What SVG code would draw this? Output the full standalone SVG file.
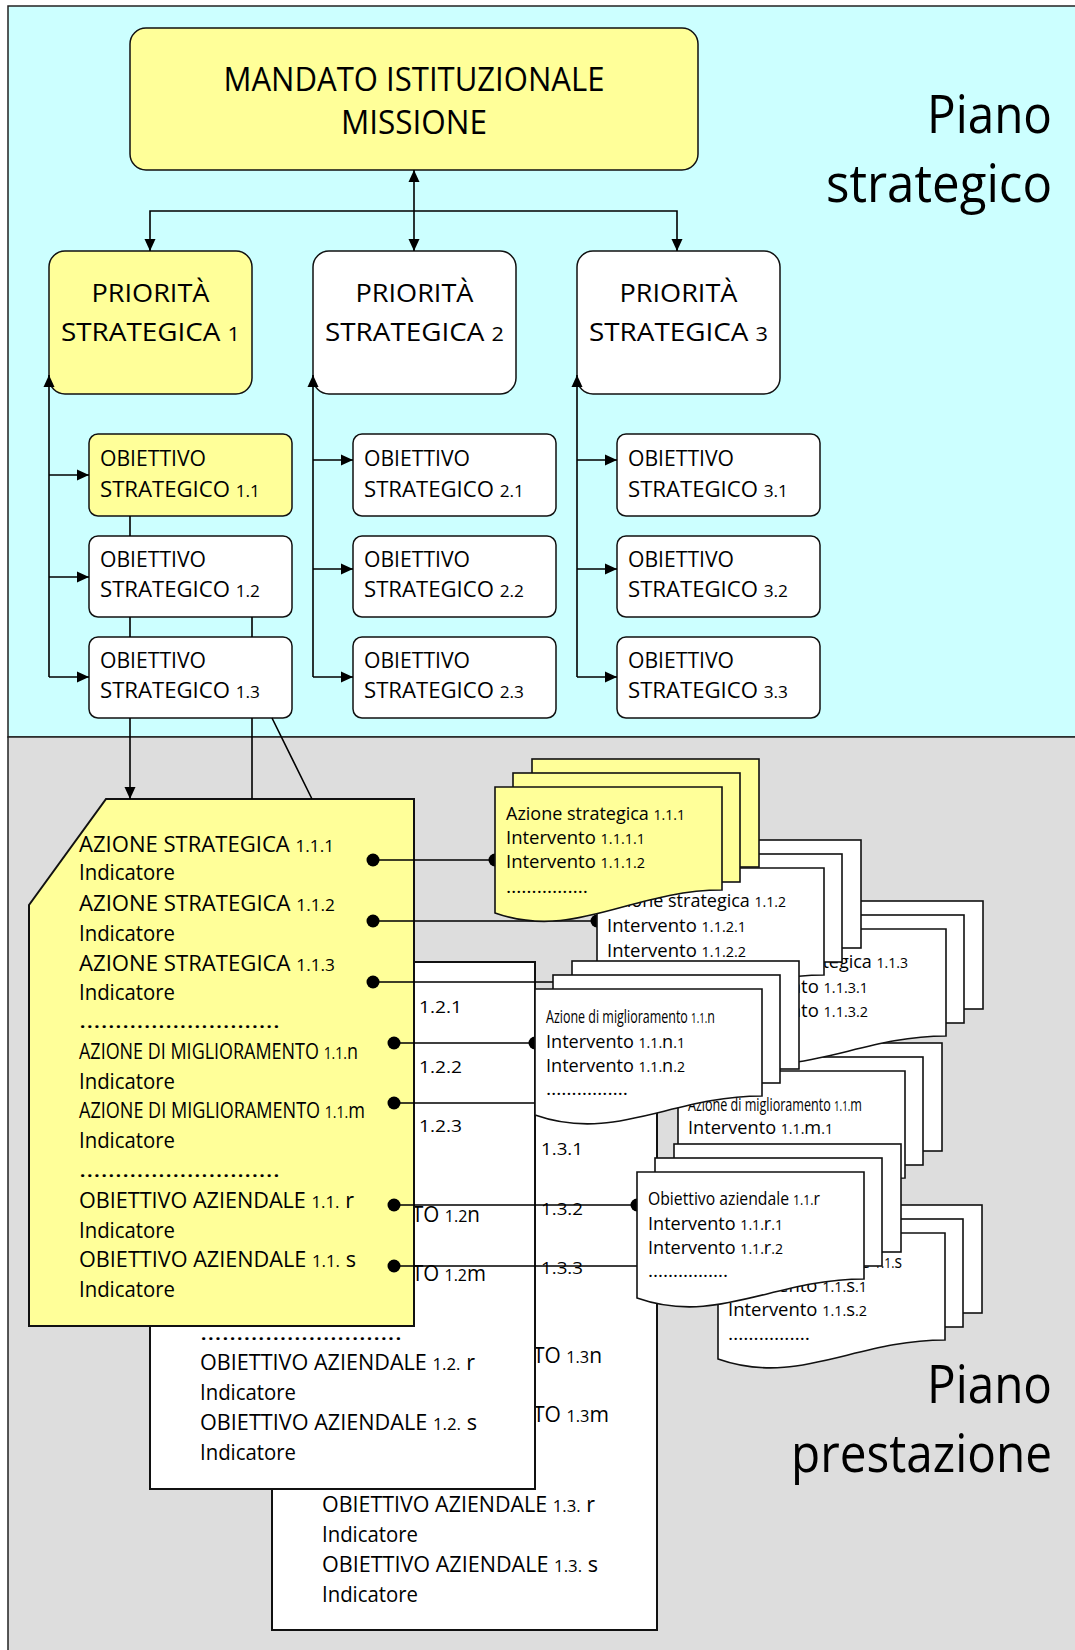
<svg xmlns="http://www.w3.org/2000/svg" width="1075" height="1650" viewBox="0 0 1075 1650">
<defs>
<marker id="ah" markerUnits="userSpaceOnUse" markerWidth="12" markerHeight="12" viewBox="0 0 12 12" refX="12" refY="6" orient="auto-start-reverse"><path d="M0,0.5 L12,6 L0,11.5 z" fill="#000"/></marker>
</defs>
<style>
text{font-family:"Open Sans","Liberation Sans",sans-serif;fill:#000}
.bx{stroke:#111;stroke-width:1.5}
.doc{stroke:#111;stroke-width:2}
.pg{stroke:#111;stroke-width:1.6}
.y{fill:#FFFF99}
.w{fill:#FFFFFF}
.ln{stroke:#000;stroke-width:1.6;fill:none}
.dot{fill:#000}
.f53{font-size:53px}
.f33{font-size:33px}
.f26{font-size:26px}
.f22{font-size:22px}
.f21{font-size:21px}
.f17{font-size:17.5px}
.n{font-size:78%}
</style>

<g id="background">
<rect x="8" y="6" width="1080" height="731" fill="#CCFFFF" stroke="#222" stroke-width="1.5"/>
<rect x="8" y="737" width="1080" height="920" fill="#DDDDDD" stroke="#222" stroke-width="1.5"/>
</g>

<g id="label-strategico">
<text class="f53" x="1052" y="133" text-anchor="end" textLength="125" lengthAdjust="spacingAndGlyphs">Piano</text>
<text class="f53" x="1052" y="202" text-anchor="end" textLength="226" lengthAdjust="spacingAndGlyphs">strategico</text>
</g>
<g id="label-prestazione">
<text class="f53" x="1052" y="1403" text-anchor="end" textLength="125" lengthAdjust="spacingAndGlyphs">Piano</text>
<text class="f53" x="1052" y="1472" text-anchor="end" textLength="261" lengthAdjust="spacingAndGlyphs">prestazione</text>
</g>

<g id="mandato">
<rect class="bx y" x="130" y="28" width="568" height="142" rx="16"/>
<text class="f33" x="414" y="91" text-anchor="middle" textLength="381" lengthAdjust="spacingAndGlyphs">MANDATO ISTITUZIONALE</text>
<text class="f33" x="414" y="134" text-anchor="middle" textLength="146" lengthAdjust="spacingAndGlyphs">MISSIONE</text>
</g>

<g id="priorita-1">
<rect class="bx y" x="49" y="251" width="203" height="143" rx="16"/>
<text class="f26" x="150.5" y="302" text-anchor="middle" textLength="118" lengthAdjust="spacingAndGlyphs">PRIORITÀ</text>
<text class="f26" x="150.5" y="341" text-anchor="middle" textLength="179" lengthAdjust="spacingAndGlyphs">STRATEGICA <tspan class="n">1</tspan></text>
</g>
<g id="priorita-2">
<rect class="bx w" x="313" y="251" width="203" height="143" rx="16"/>
<text class="f26" x="414.5" y="302" text-anchor="middle" textLength="118" lengthAdjust="spacingAndGlyphs">PRIORITÀ</text>
<text class="f26" x="414.5" y="341" text-anchor="middle" textLength="179" lengthAdjust="spacingAndGlyphs">STRATEGICA <tspan class="n">2</tspan></text>
</g>
<g id="priorita-3">
<rect class="bx w" x="577" y="251" width="203" height="143" rx="16"/>
<text class="f26" x="678.5" y="302" text-anchor="middle" textLength="118" lengthAdjust="spacingAndGlyphs">PRIORITÀ</text>
<text class="f26" x="678.5" y="341" text-anchor="middle" textLength="179" lengthAdjust="spacingAndGlyphs">STRATEGICA <tspan class="n">3</tspan></text>
</g>

<g id="obiettivo-1-1">
<rect class="bx y" x="89" y="434" width="203" height="82" rx="9"/>
<text class="f22" x="100" y="466" textLength="106" lengthAdjust="spacingAndGlyphs">OBIETTIVO</text>
<text class="f22" x="100" y="497" textLength="160" lengthAdjust="spacingAndGlyphs">STRATEGICO <tspan class="n">1.1</tspan></text>
</g>
<g id="obiettivo-1-2">
<rect class="bx w" x="89" y="536" width="203" height="81" rx="9"/>
<text class="f22" x="100" y="567" textLength="106" lengthAdjust="spacingAndGlyphs">OBIETTIVO</text>
<text class="f22" x="100" y="597" textLength="160" lengthAdjust="spacingAndGlyphs">STRATEGICO <tspan class="n">1.2</tspan></text>
</g>
<g id="obiettivo-1-3">
<rect class="bx w" x="89" y="637" width="203" height="81" rx="9"/>
<text class="f22" x="100" y="668" textLength="106" lengthAdjust="spacingAndGlyphs">OBIETTIVO</text>
<text class="f22" x="100" y="698" textLength="160" lengthAdjust="spacingAndGlyphs">STRATEGICO <tspan class="n">1.3</tspan></text>
</g>
<g id="obiettivo-2-1">
<rect class="bx w" x="353" y="434" width="203" height="82" rx="9"/>
<text class="f22" x="364" y="466" textLength="106" lengthAdjust="spacingAndGlyphs">OBIETTIVO</text>
<text class="f22" x="364" y="497" textLength="160" lengthAdjust="spacingAndGlyphs">STRATEGICO <tspan class="n">2.1</tspan></text>
</g>
<g id="obiettivo-2-2">
<rect class="bx w" x="353" y="536" width="203" height="81" rx="9"/>
<text class="f22" x="364" y="567" textLength="106" lengthAdjust="spacingAndGlyphs">OBIETTIVO</text>
<text class="f22" x="364" y="597" textLength="160" lengthAdjust="spacingAndGlyphs">STRATEGICO <tspan class="n">2.2</tspan></text>
</g>
<g id="obiettivo-2-3">
<rect class="bx w" x="353" y="637" width="203" height="81" rx="9"/>
<text class="f22" x="364" y="668" textLength="106" lengthAdjust="spacingAndGlyphs">OBIETTIVO</text>
<text class="f22" x="364" y="698" textLength="160" lengthAdjust="spacingAndGlyphs">STRATEGICO <tspan class="n">2.3</tspan></text>
</g>
<g id="obiettivo-3-1">
<rect class="bx w" x="617" y="434" width="203" height="82" rx="9"/>
<text class="f22" x="628" y="466" textLength="106" lengthAdjust="spacingAndGlyphs">OBIETTIVO</text>
<text class="f22" x="628" y="497" textLength="160" lengthAdjust="spacingAndGlyphs">STRATEGICO <tspan class="n">3.1</tspan></text>
</g>
<g id="obiettivo-3-2">
<rect class="bx w" x="617" y="536" width="203" height="81" rx="9"/>
<text class="f22" x="628" y="567" textLength="106" lengthAdjust="spacingAndGlyphs">OBIETTIVO</text>
<text class="f22" x="628" y="597" textLength="160" lengthAdjust="spacingAndGlyphs">STRATEGICO <tspan class="n">3.2</tspan></text>
</g>
<g id="obiettivo-3-3">
<rect class="bx w" x="617" y="637" width="203" height="81" rx="9"/>
<text class="f22" x="628" y="668" textLength="106" lengthAdjust="spacingAndGlyphs">OBIETTIVO</text>
<text class="f22" x="628" y="698" textLength="160" lengthAdjust="spacingAndGlyphs">STRATEGICO <tspan class="n">3.3</tspan></text>
</g>

<g id="doc-1-3">
<polygon class="doc w" points="349,1103 657,1103 657,1630 272,1630 272,1209"/>
<text class="f21" x="541" y="1155" textLength="42" lengthAdjust="spacingAndGlyphs"><tspan class="n">1.3.1</tspan></text>
<text class="f21" x="541" y="1215" textLength="42" lengthAdjust="spacingAndGlyphs"><tspan class="n">1.3.2</tspan></text>
<text class="f21" x="541" y="1274" textLength="42" lengthAdjust="spacingAndGlyphs"><tspan class="n">1.3.3</tspan></text>
<text class="f21" x="533" y="1363" textLength="69" lengthAdjust="spacingAndGlyphs">TO <tspan class="n">1.3</tspan>n</text>
<text class="f21" x="533" y="1422" textLength="76" lengthAdjust="spacingAndGlyphs">TO <tspan class="n">1.3</tspan>m</text>
<text class="f21" x="322" y="1512" textLength="273" lengthAdjust="spacingAndGlyphs">OBIETTIVO AZIENDALE <tspan class="n">1.3.</tspan> r</text>
<text class="f21" x="322" y="1542" textLength="96" lengthAdjust="spacingAndGlyphs">Indicatore</text>
<text class="f21" x="322" y="1572" textLength="276" lengthAdjust="spacingAndGlyphs">OBIETTIVO AZIENDALE <tspan class="n">1.3.</tspan> s</text>
<text class="f21" x="322" y="1602" textLength="96" lengthAdjust="spacingAndGlyphs">Indicatore</text>
</g>

<g id="doc-1-2">
<polygon class="doc w" points="227,962 535,962 535,1489 150,1489 150,1068"/>
<text class="f21" x="419" y="1013" textLength="43" lengthAdjust="spacingAndGlyphs"><tspan class="n">1.2.1</tspan></text>
<text class="f21" x="419" y="1073" textLength="43" lengthAdjust="spacingAndGlyphs"><tspan class="n">1.2.2</tspan></text>
<text class="f21" x="419" y="1132" textLength="43" lengthAdjust="spacingAndGlyphs"><tspan class="n">1.2.3</tspan></text>
<text class="f21" x="412" y="1222" textLength="68" lengthAdjust="spacingAndGlyphs">TO <tspan class="n">1.2</tspan>n</text>
<text class="f21" x="412" y="1281" textLength="74" lengthAdjust="spacingAndGlyphs">TO <tspan class="n">1.2</tspan>m</text>
<text class="f21" x="200" y="1340" textLength="202" lengthAdjust="spacingAndGlyphs">……………………….</text>
<text class="f21" x="200" y="1370" textLength="275" lengthAdjust="spacingAndGlyphs">OBIETTIVO AZIENDALE <tspan class="n">1.2.</tspan> r</text>
<text class="f21" x="200" y="1400" textLength="96" lengthAdjust="spacingAndGlyphs">Indicatore</text>
<text class="f21" x="200" y="1430" textLength="277" lengthAdjust="spacingAndGlyphs">OBIETTIVO AZIENDALE <tspan class="n">1.2.</tspan> s</text>
<text class="f21" x="200" y="1460" textLength="96" lengthAdjust="spacingAndGlyphs">Indicatore</text>
</g>

<g id="doc-1-1">
<polygon class="doc y" points="106,799 414,799 414,1326 29,1326 29,905"/>
<text class="f21" x="79" y="852" textLength="255" lengthAdjust="spacingAndGlyphs">AZIONE STRATEGICA <tspan class="n">1.1.1</tspan></text>
<text class="f21" x="79" y="880" textLength="96" lengthAdjust="spacingAndGlyphs">Indicatore</text>
<text class="f21" x="79" y="911" textLength="256" lengthAdjust="spacingAndGlyphs">AZIONE STRATEGICA <tspan class="n">1.1.2</tspan></text>
<text class="f21" x="79" y="941" textLength="96" lengthAdjust="spacingAndGlyphs">Indicatore</text>
<text class="f21" x="79" y="971" textLength="256" lengthAdjust="spacingAndGlyphs">AZIONE STRATEGICA <tspan class="n">1.1.3</tspan></text>
<text class="f21" x="79" y="1000" textLength="96" lengthAdjust="spacingAndGlyphs">Indicatore</text>
<text class="f21" x="79" y="1028" textLength="201" lengthAdjust="spacingAndGlyphs">……………………….</text>
<text class="f21" x="79" y="1059" textLength="279" lengthAdjust="spacingAndGlyphs">AZIONE DI MIGLIORAMENTO <tspan class="n">1.1.</tspan>n</text>
<text class="f21" x="79" y="1089" textLength="96" lengthAdjust="spacingAndGlyphs">Indicatore</text>
<text class="f21" x="79" y="1118" textLength="286" lengthAdjust="spacingAndGlyphs">AZIONE DI MIGLIORAMENTO <tspan class="n">1.1.</tspan>m</text>
<text class="f21" x="79" y="1148" textLength="96" lengthAdjust="spacingAndGlyphs">Indicatore</text>
<text class="f21" x="79" y="1177" textLength="201" lengthAdjust="spacingAndGlyphs">……………………….</text>
<text class="f21" x="79" y="1208" textLength="275" lengthAdjust="spacingAndGlyphs">OBIETTIVO AZIENDALE <tspan class="n">1.1.</tspan> r</text>
<text class="f21" x="79" y="1238" textLength="96" lengthAdjust="spacingAndGlyphs">Indicatore</text>
<text class="f21" x="79" y="1267" textLength="277" lengthAdjust="spacingAndGlyphs">OBIETTIVO AZIENDALE <tspan class="n">1.1.</tspan> s</text>
<text class="f21" x="79" y="1297" textLength="96" lengthAdjust="spacingAndGlyphs">Indicatore</text>
</g>

<g id="connectors">
<path class="ln" d="M414,170 V251" marker-start="url(#ah)" marker-end="url(#ah)"/>
<path class="ln" d="M150,251 V211 H677 V251" marker-start="url(#ah)" marker-end="url(#ah)"/>
<path class="ln" d="M49,677 V375" marker-end="url(#ah)"/>
<path class="ln" d="M49,475 H89" marker-end="url(#ah)"/>
<path class="ln" d="M49,577 H89" marker-end="url(#ah)"/>
<path class="ln" d="M49,677 H89" marker-end="url(#ah)"/>
<path class="ln" d="M313,677 V375" marker-end="url(#ah)"/>
<path class="ln" d="M313,460 H353" marker-end="url(#ah)"/>
<path class="ln" d="M313,569 H353" marker-end="url(#ah)"/>
<path class="ln" d="M313,677 H353" marker-end="url(#ah)"/>
<path class="ln" d="M577,677 V375" marker-end="url(#ah)"/>
<path class="ln" d="M577,460 H617" marker-end="url(#ah)"/>
<path class="ln" d="M577,569 H617" marker-end="url(#ah)"/>
<path class="ln" d="M577,677 H617" marker-end="url(#ah)"/>
<path class="ln" d="M130,516 V536 M130,617 V637 M252,617 V637"/>
<path class="ln" d="M130,718 V799" marker-end="url(#ah)"/>
<path class="ln" d="M252,718 V799 M272,718 L312,799"/>
<path class="ln" d="M373,860 H495 M373,921 H597 M373,982 H700 M394,1043 H535 M394,1103 H560 M394,1205 H637 M394,1266 H660"/>
<g class="dot">
<circle cx="373" cy="860" r="6.5"/><circle cx="373" cy="921" r="6.5"/><circle cx="373" cy="982" r="6.5"/>
<circle cx="394" cy="1043" r="6.5"/><circle cx="394" cy="1103" r="6.5"/><circle cx="394" cy="1205" r="6.5"/><circle cx="394" cy="1266" r="6.5"/>
<circle cx="495" cy="860" r="6.5"/><circle cx="597" cy="921" r="6.5"/><circle cx="535" cy="1043" r="6.5"/><circle cx="637" cy="1205" r="6.5"/>
</g>
</g>

<g id="stack-1-1-s">
<rect class="pg w" x="755" y="1205" width="227" height="108"/>
<rect class="pg w" x="736" y="1219" width="227" height="108"/>
<path class="pg w" d="M718,1233 H945 V1340 C854.2,1340 797.5,1387 718,1359 Z"/>
<text class="f17" x="728" y="1268" textLength="174" lengthAdjust="spacingAndGlyphs">Obiettivo aziendale <tspan class="n">1.1.</tspan>s</text>
<text class="f17" x="728" y="1292" textLength="139" lengthAdjust="spacingAndGlyphs">Intervento  <tspan class="n">1.1.</tspan>s<tspan class="n">.1</tspan></text>
<text class="f17" x="728" y="1316" textLength="139" lengthAdjust="spacingAndGlyphs">Intervento  <tspan class="n">1.1.</tspan>s<tspan class="n">.2</tspan></text>
<text class="f17" x="728" y="1340" textLength="82" lengthAdjust="spacingAndGlyphs">…………….</text>
</g>

<g id="stack-1-1-m">
<rect class="pg w" x="715" y="1043" width="227" height="108"/>
<rect class="pg w" x="696" y="1057" width="227" height="108"/>
<path class="pg w" d="M678,1071 H905 V1178 C814.2,1178 757.5,1225 678,1197 Z"/>
<text class="f17" x="688" y="1111" textLength="174" lengthAdjust="spacingAndGlyphs">Azione di miglioramento <tspan class="n">1.1.</tspan>m</text>
<text class="f17" x="688" y="1134" textLength="145" lengthAdjust="spacingAndGlyphs">Intervento  <tspan class="n">1.1.</tspan>m<tspan class="n">.1</tspan></text>
</g>

<g id="stack-1-1-3">
<rect class="pg w" x="756" y="901" width="227" height="108"/>
<rect class="pg w" x="737" y="915" width="227" height="108"/>
<path class="pg w" d="M719,929 H946 V1036 C855.2,1036 798.5,1083 719,1055 Z"/>
<text class="f17" x="729" y="968" textLength="179" lengthAdjust="spacingAndGlyphs">Azione strategica  <tspan class="n">1.1.3</tspan></text>
<text class="f17" x="729" y="993" textLength="139" lengthAdjust="spacingAndGlyphs">Intervento  <tspan class="n">1.1.3.1</tspan></text>
<text class="f17" x="729" y="1017" textLength="139" lengthAdjust="spacingAndGlyphs">Intervento  <tspan class="n">1.1.3.2</tspan></text>
</g>

<g id="stack-1-1-2">
<rect class="pg w" x="634" y="840" width="227" height="108"/>
<rect class="pg w" x="615" y="854" width="227" height="108"/>
<path class="pg w" d="M597,868 H824 V975 C733.2,975 676.5,1022 597,994 Z"/>
<text class="f17" x="607" y="907" textLength="179" lengthAdjust="spacingAndGlyphs">Azione strategica  <tspan class="n">1.1.2</tspan></text>
<text class="f17" x="607" y="932" textLength="139" lengthAdjust="spacingAndGlyphs">Intervento  <tspan class="n">1.1.2.1</tspan></text>
<text class="f17" x="607" y="957" textLength="139" lengthAdjust="spacingAndGlyphs">Intervento  <tspan class="n">1.1.2.2</tspan></text>
</g>

<g id="stack-1-1-1">
<rect class="pg y" x="532" y="759" width="227" height="108"/>
<rect class="pg y" x="513" y="773" width="227" height="109"/>
<path class="pg y" d="M495,787 H722 V890 C631.2,890 574.5,941 495,913 Z"/>
<text class="f17" x="506" y="820" textLength="179" lengthAdjust="spacingAndGlyphs">Azione strategica  <tspan class="n">1.1.1</tspan></text>
<text class="f17" x="506" y="844" textLength="139" lengthAdjust="spacingAndGlyphs">Intervento  <tspan class="n">1.1.1.1</tspan></text>
<text class="f17" x="506" y="868" textLength="139" lengthAdjust="spacingAndGlyphs">Intervento  <tspan class="n">1.1.1.2</tspan></text>
<text class="f17" x="506" y="893" textLength="82" lengthAdjust="spacingAndGlyphs">…………….</text>
</g>

<g id="stack-1-1-n">
<rect class="pg w" x="572" y="961" width="227" height="108"/>
<rect class="pg w" x="553" y="975" width="227" height="108"/>
<path class="pg w" d="M535,989 H762 V1096 C671.2,1096 614.5,1143 535,1115 Z"/>
<text class="f17" x="546" y="1023" textLength="169" lengthAdjust="spacingAndGlyphs">Azione di miglioramento <tspan class="n">1.1.</tspan>n</text>
<text class="f17" x="546" y="1048" textLength="139" lengthAdjust="spacingAndGlyphs">Intervento  <tspan class="n">1.1.</tspan>n<tspan class="n">.1</tspan></text>
<text class="f17" x="546" y="1072" textLength="139" lengthAdjust="spacingAndGlyphs">Intervento  <tspan class="n">1.1.</tspan>n<tspan class="n">.2</tspan></text>
<text class="f17" x="546" y="1095" textLength="82" lengthAdjust="spacingAndGlyphs">…………….</text>
</g>

<g id="stack-1-1-r">
<rect class="pg w" x="674" y="1144" width="227" height="108"/>
<rect class="pg w" x="655" y="1158" width="227" height="108"/>
<path class="pg w" d="M637,1172 H864 V1279 C773.2,1279 716.5,1326 637,1298 Z"/>
<text class="f17" x="648" y="1205" textLength="172" lengthAdjust="spacingAndGlyphs">Obiettivo aziendale <tspan class="n">1.1.</tspan>r</text>
<text class="f17" x="648" y="1230" textLength="135" lengthAdjust="spacingAndGlyphs">Intervento  <tspan class="n">1.1.</tspan>r<tspan class="n">.1</tspan></text>
<text class="f17" x="648" y="1254" textLength="135" lengthAdjust="spacingAndGlyphs">Intervento  <tspan class="n">1.1.</tspan>r<tspan class="n">.2</tspan></text>
<text class="f17" x="648" y="1277" textLength="80" lengthAdjust="spacingAndGlyphs">…………….</text>
</g>
</svg>
